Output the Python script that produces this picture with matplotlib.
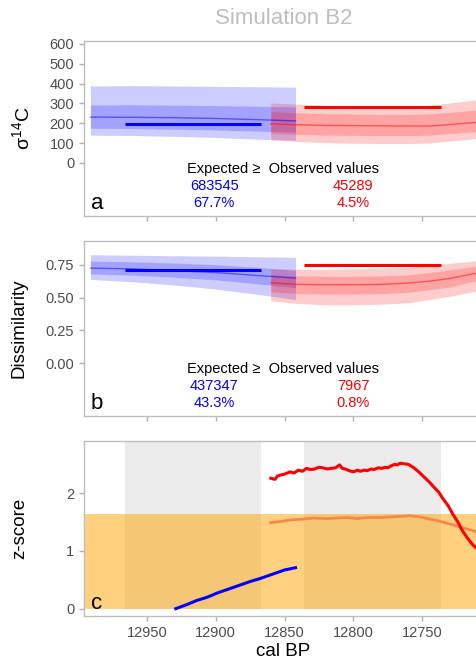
import numpy as np
import matplotlib
matplotlib.use("Agg")
import matplotlib.pyplot as plt

plt.rcParams['font.family'] = ['Liberation Sans', 'DejaVu Sans']
plt.rcParams['mathtext.fontset'] = 'custom'
plt.rcParams['mathtext.rm'] = 'Liberation Sans'
plt.rcParams['mathtext.it'] = 'Liberation Sans'

# ---- data ----
# simulated (expected) bands, blue window
yrs_blue = [12991, 12960, 12930, 12900, 12870, 12842]
a_blue_mean = [231, 230, 228, 224, 218, 212]
a_blue_in_hi = [292, 293, 291, 289, 286, 282]
a_blue_in_lo = [175, 173, 170, 166, 160, 155]
a_blue_out_hi = [388, 390, 388, 386, 384, 382]
a_blue_out_lo = [140, 138, 134, 128, 120, 114]

# red window
yrs_red = [12860, 12840, 12820, 12800, 12780, 12760, 12745, 12730, 12706]
a_red_mean = [197, 192, 189, 188, 187, 186, 186, 193, 207]
a_red_in_hi = [258, 252, 248, 246, 245, 245, 247, 255, 268]
a_red_in_lo = [148, 143, 140, 139, 138, 138, 140, 148, 160]
a_red_out_hi = [302, 296, 290, 286, 285, 286, 290, 302, 322]
a_red_out_lo = [116, 108, 102, 99, 98, 98, 100, 110, 126]

b_blue_mean = [0.724, 0.718, 0.705, 0.690, 0.668, 0.648]
b_blue_in_hi = [0.777, 0.772, 0.762, 0.750, 0.730, 0.707]
b_blue_in_lo = [0.680, 0.670, 0.655, 0.635, 0.605, 0.575]
b_blue_out_hi = [0.825, 0.822, 0.818, 0.815, 0.810, 0.806]
b_blue_out_lo = [0.638, 0.620, 0.595, 0.565, 0.525, 0.485]

b_red_mean = [0.613, 0.600, 0.598, 0.598, 0.600, 0.610, 0.625, 0.645, 0.695]
b_red_in_hi = [0.675, 0.665, 0.662, 0.662, 0.665, 0.672, 0.690, 0.710, 0.745]
b_red_in_lo = [0.545, 0.530, 0.527, 0.527, 0.530, 0.540, 0.560, 0.580, 0.640]
b_red_out_hi = [0.720, 0.715, 0.715, 0.718, 0.722, 0.730, 0.745, 0.760, 0.785]
b_red_out_lo = [0.475, 0.455, 0.445, 0.445, 0.450, 0.460, 0.485, 0.510, 0.560]

# observed values (windows)
obs_blue_x = [12966, 12867]
obs_red_x = [12835.5, 12736]
a_obs_blue = 198
a_obs_red = 283
b_obs_blue = 0.709
b_obs_red = 0.75

# text summaries
a_counts = ['683545', '45289']
a_pcts = ['67.7%', '4.5%']
b_counts = ['437347', '7967']
b_pcts = ['43.3%', '0.8%']

# z-scores
z_blue_x = [12929, 12921, 12914, 12906, 12899, 12893, 12887, 12881, 12875, 12868, 12862, 12856, 12850, 12842]
z_blue_y = [0.00, 0.07, 0.14, 0.20, 0.27, 0.32, 0.37, 0.42, 0.47, 0.52, 0.57, 0.62, 0.67, 0.71]

z_red_x = [12860, 12857, 12855, 12852, 12850, 12846, 12843, 12840, 12837, 12834, 12831, 12828,
           12825, 12822, 12819, 12816, 12813, 12810, 12808, 12806, 12803, 12800, 12797, 12795,
           12792, 12790, 12787, 12785, 12782, 12779, 12777, 12775, 12772, 12770, 12768, 12766,
           12763, 12760, 12756, 12752, 12749, 12745, 12742, 12738, 12735, 12731, 12728, 12724,
           12721, 12717, 12713, 12710, 12706]
z_red_y = [2.26, 2.24, 2.30, 2.32, 2.33, 2.37, 2.35, 2.40, 2.38, 2.43, 2.41, 2.42,
           2.45, 2.44, 2.42, 2.43, 2.44, 2.49, 2.43, 2.42, 2.39, 2.37, 2.40, 2.38,
           2.40, 2.39, 2.42, 2.41, 2.44, 2.43, 2.45, 2.44, 2.48, 2.50, 2.49, 2.52,
           2.51, 2.50, 2.44, 2.36, 2.29, 2.20, 2.12, 2.02, 1.91, 1.78, 1.65, 1.50,
           1.36, 1.22, 1.10, 1.04, 0.95]

z_orng_x = [12860, 12853, 12845, 12837, 12829, 12820, 12812, 12805, 12797, 12790, 12780,
            12772, 12765, 12759, 12752, 12744, 12738, 12732, 12727, 12722, 12716, 12710, 12706]
z_orng_y = [1.49, 1.51, 1.54, 1.55, 1.57, 1.56, 1.57, 1.58, 1.56, 1.58, 1.58,
            1.59, 1.60, 1.61, 1.59, 1.55, 1.52, 1.48, 1.45, 1.41, 1.37, 1.33, 1.31]

z_crit = 1.645
gray_windows = [obs_blue_x, obs_red_x]

# ---- figure ----
W, H = 477, 664
fig = plt.figure(figsize=(W / 100, H / 100), dpi=100)

def px_axes(top, bottom, left=84, right=482):
    return fig.add_axes([left / W, 1 - bottom / H, (right - left) / W, (bottom - top) / H])

ax_a = px_axes(41, 216)
ax_b = px_axes(241, 416)
ax_c = px_axes(440.7, 616)

xlim = (12995.7, 12706.5)
tick_col = '#4D4D4D'
spine_col = '#BDBDBD'

for ax in (ax_a, ax_b, ax_c):
    ax.set_xlim(*xlim)
    ax.set_xticks([12950, 12900, 12850, 12800, 12750])
    for s in ax.spines.values():
        s.set_color(spine_col)
        s.set_linewidth(1.0)
    ax.tick_params(axis='both', colors='#B0B0B0', length=3.5, width=1.0,
                   labelsize=10.5, labelcolor=tick_col)

ax_a.tick_params(axis='x', labelbottom=False)
ax_b.tick_params(axis='x', labelbottom=False)


def band_panel(ax, bl, rd, obs_b, obs_r):
    for x, (mean, ihi, ilo, ohi, olo), col in ((yrs_blue, bl, 'blue'), (yrs_red, rd, 'red')):
        ax.fill_between(x, olo, ohi, color=col, alpha=0.2, lw=0)
        ax.fill_between(x, ilo, ihi, color=col, alpha=0.2, lw=0)
        ax.plot(x, mean, color=col, lw=1, alpha=0.5)
    ax.plot(obs_blue_x, [obs_b, obs_b], color='blue', lw=2.2, solid_capstyle='butt')
    ax.plot(obs_red_x, [obs_r, obs_r], color='red', lw=2.2, solid_capstyle='butt')


def summary_text(ax, counts, pcts, letter):
    ax.text(0.5, 0.269, 'Expected \u2265  Observed values', transform=ax.transAxes,
            ha='center', va='center', fontsize=10.5, color='black')
    ax.text(0.327, 0.171, counts[0], transform=ax.transAxes, ha='center', va='center',
            fontsize=10.5, color='blue')
    ax.text(0.676, 0.171, counts[1], transform=ax.transAxes, ha='center', va='center',
            fontsize=10.5, color='red')
    ax.text(0.327, 0.074, pcts[0], transform=ax.transAxes, ha='center', va='center',
            fontsize=10.5, color='blue')
    ax.text(0.676, 0.074, pcts[1], transform=ax.transAxes, ha='center', va='center',
            fontsize=10.5, color='red')
    ax.text(0.017, 0.042, letter, transform=ax.transAxes, ha='left', va='baseline',
            fontsize=16, color='black')


# panel a
band_panel(ax_a,
           (a_blue_mean, a_blue_in_hi, a_blue_in_lo, a_blue_out_hi, a_blue_out_lo),
           (a_red_mean, a_red_in_hi, a_red_in_lo, a_red_out_hi, a_red_out_lo),
           a_obs_blue, a_obs_red)
ax_a.set_ylim(-268, 615)
ax_a.set_yticks([0, 100, 200, 300, 400, 500, 600])
ax_a.set_ylabel(r'$\sigma^{14}$C', fontsize=14)
ax_a.yaxis.set_label_coords(-0.128, 0.5)
summary_text(ax_a, a_counts, a_pcts, 'a')

# panel b
band_panel(ax_b,
           (b_blue_mean, b_blue_in_hi, b_blue_in_lo, b_blue_out_hi, b_blue_out_lo),
           (b_red_mean, b_red_in_hi, b_red_in_lo, b_red_out_hi, b_red_out_lo),
           b_obs_blue, b_obs_red)
ax_b.set_ylim(-0.40, 0.93)
ax_b.set_yticks([0, 0.25, 0.5, 0.75])
ax_b.set_yticklabels(['0.00', '0.25', '0.50', '0.75'])
ax_b.set_ylabel('Dissimilarity', fontsize=13.5)
ax_b.yaxis.set_label_coords(-0.141, 0.5)
summary_text(ax_b, b_counts, b_pcts, 'b')

# panel c
ax_c.set_ylim(-0.127, 2.91)
for x0, x1 in gray_windows:
    ax_c.fill_between([x0, x1], 0, 3.0, color='#EBEBEB', lw=0, zorder=0.5)
ax_c.fill_between(xlim, 0, z_crit, color='orange', alpha=0.5, lw=0, zorder=1)
ax_c.plot(z_orng_x, z_orng_y, color='#F7884A', lw=2, zorder=2)
ax_c.plot(z_red_x, z_red_y, color='red', lw=2.2, zorder=3)
ax_c.plot(z_blue_x, z_blue_y, color='blue', lw=2.2, zorder=3)
ax_c.set_yticks([0, 1, 2])
ax_c.set_ylabel('z-score', fontsize=13.5)
ax_c.yaxis.set_label_coords(-0.141, 0.5)
ax_c.set_xlabel('cal BP', fontsize=13.5, labelpad=2)
ax_c.text(0.017, 0.04, 'c', transform=ax_c.transAxes, ha='left', va='baseline',
          fontsize=16, color='black')

fig.text(283.5 / W, 1 - 19 / H, 'Simulation B2', ha='center', va='center',
         fontsize=16, color='#BEBEBE')

fig.savefig('out.png', dpi=100)
